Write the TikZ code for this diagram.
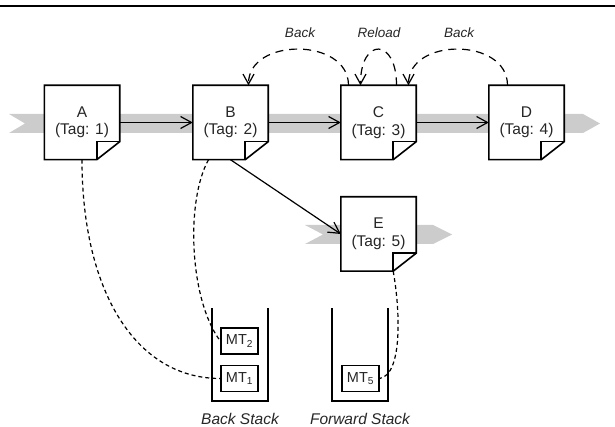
\documentclass[tikz,border=0pt]{standalone}
\usepackage{fontspec}
\setmainfont{Liberation Sans}
\usetikzlibrary{arrows.meta,positioning,calc}

\tikzset{
  page/.style={fill=white, minimum width=75pt, minimum height=74pt, inner sep=0pt,
    align=center, text=black!85, font=\fontsize{15.5}{17.5}\selectfont},
  pageline/.style={line width=1.6pt, line join=miter},
  mt/.style={draw, fill=white, line width=1.4pt, minimum width=37pt, minimum height=26pt,
    inner sep=0pt, text=black!85, font=\fontsize{14.5}{14.5}\selectfont},
  lbl/.style={text=black!85, font=\itshape\fontsize{13.5}{15}\selectfont},
  stacklbl/.style={text=black!85, font=\itshape\fontsize{15.5}{17}\selectfont},
}

\begin{document}
\begin{tikzpicture}[x=1pt, y=1pt,
    nav/.style={line width=1.2pt, -{Straight Barb[length=11pt,width=12pt]}},
    hist/.style={line width=1.2pt, dash pattern=on 8pt off 6pt, -{Straight Barb[length=10pt,width=11pt]}},
    link/.style={line width=1.2pt, dash pattern=on 4pt off 3pt},
    stackline/.style={line width=1.5pt}]
    \useasboundingbox (0,0) rectangle (615,-427);
    \draw[line width=1.3pt] (0,-6) -- (615,-6);
    % history bands
    \fill[black!20] (9,-114) -- (583,-114) -- (600,-123.5) -- (583,-133) -- (9,-133) -- (25,-123.5) -- cycle;
    \fill[black!20] (305,-225) -- (433,-225) -- (452,-234.5) -- (433,-244) -- (305,-244) -- (323,-234.5) -- cycle;
    % pages
    \node[page] (a) at (82,-122.5) {A\\(Tag: 1)};
    \node[page] (b) at (230.5,-122.5) {B\\(Tag: 2)};
    \node[page] (c) at (378.5,-122.5) {C\\(Tag: 3)};
    \node[page] (d) at (526.5,-122.5) {D\\(Tag: 4)};
    \node[page] (e) at (378.5,-234) {E\\(Tag: 5)};
    \foreach \p in {a,b,c,d,e}{
      \draw[pageline] (\p.north west) -- (\p.north east) -- ([yshift=18pt]\p.south east)
        -- ([xshift=-23pt]\p.south east) -- (\p.south west) -- cycle;
      \draw[pageline] ([xshift=-23pt]\p.south east) |- ([yshift=18pt]\p.south east);
    }
    % navigation
    \draw[nav] (a) -- (b);
    \draw[nav] (b) -- (c);
    \draw[nav] (c) -- (d);
    \draw[nav] (b.south) -- (e.west);
    % back / reload / back
    \draw[hist] ([xshift=-30pt]c.north) .. controls +(0,48) and +(0,48) .. ([xshift=18pt]b.north);
    \draw[hist] ([xshift=18pt]c.north) .. controls +(0,48) and +(0,48) .. ([xshift=-18pt]c.north);
    \draw[hist] ([xshift=-19pt]d.north) .. controls +(0,48) and +(0,48) .. ([xshift=30pt]c.north);
    \node[lbl] (backone) at (300,-33) {Back};
    \node[lbl] (reload) at (379,-33) {Reload};
    \node[lbl] (backtwo) at (459,-33) {Back};
    % stacks
    \draw[stackline] (212,-308) |- (268,-401) -- (268,-308);
    \draw[stackline] (332,-308) |- (388,-401) -- (388,-308);
    \node[mt] (mttwo) at (239.5,-341) {MT\textsubscript{2}};
    \node[mt] (mtone) at (239.5,-378.5) {MT\textsubscript{1}};
    \node[mt] (mtfive) at (360.5,-378.5) {MT\textsubscript{5}};
    \node[stacklbl] (backstack) at (240,-419) {Back Stack};
    \node[stacklbl] (fwdstack) at (360,-419) {Forward Stack};
    % saved tags
    \draw[link] (a.south) .. controls +(0,-131) and +(-85,0) .. (mtone.west);
    \draw[link] ([xshift=-22pt]b.south) .. controls +(-23,-41) and +(-31,41) .. (mttwo.west);
    \draw[link] ([xshift=-23pt]e.south east) .. controls +(7,-39) and +(23,4) .. (mtfive.east);
\end{tikzpicture}
\end{document}
